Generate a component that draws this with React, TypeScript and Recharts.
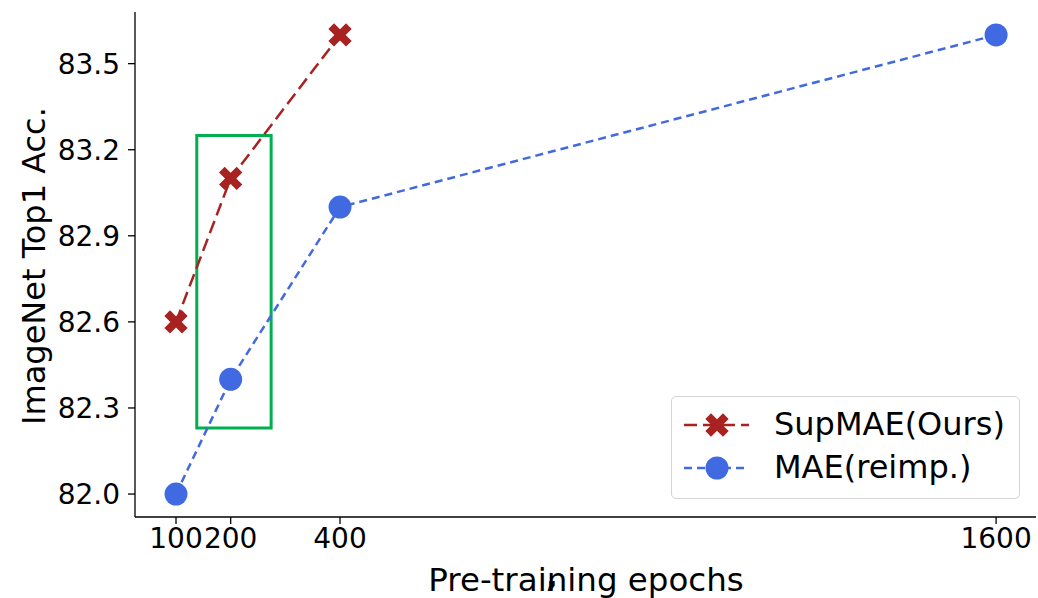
import React from 'react';
import { LineChart, Line, XAxis, YAxis, ReferenceArea } from 'recharts';

const epochs = [100, 200, 400, 1600];
const supMAE = [82.6, 83.1, 83.6];
const maeReimp = [82.0, 82.4, 83.0, 83.6];
const xTicks = [100, 200, 400, 1600];
const yTicks = [82.0, 82.3, 82.6, 82.9, 83.2, 83.5];
// highlighted region around the 200-epoch points
const boxX = [138, 274];
const boxY = [82.23, 83.25];

const RED = '#A82222';
const BLUE = '#4169E1';
const GREEN = '#00B050';
const FONT = '"DejaVu Sans", sans-serif';

const data = epochs.map((e, i) => ({ epoch: e, sup: supMAE[i], mae: maeReimp[i] }));

const xPath = (cx: number, cy: number, L: number, t: number) => {
    // plus shape rotated 45 degrees
    const pts: [number, number][] = [
        [-t, -L], [t, -L], [t, -t], [L, -t], [L, t], [t, t],
        [t, L], [-t, L], [-t, t], [-L, t], [-L, -t], [-t, -t],
    ];
    const c = Math.SQRT1_2;
    return pts
        .map(([x, y], i) => `${i ? 'L' : 'M'}${cx + (x - y) * c},${cy + (x + y) * c}`)
        .join(' ') + ' Z';
};

const XDot = (props: any) => {
    const { cx, cy, index } = props;
    if (cx == null || cy == null) return <g key={`x-${index}`} />;
    return <path key={`x-${index}`} d={xPath(cx, cy, 12.5, 4)} fill={RED} />;
};

const CircleDot = (props: any) => {
    const { cx, cy, index } = props;
    if (cx == null || cy == null) return <g key={`c-${index}`} />;
    return <circle key={`c-${index}`} cx={cx} cy={cy} r={11.5} fill={BLUE} />;
};

const LegendBox = () => (
    <div style={{
        position: 'absolute', left: 671, top: 396, width: 347, height: 101,
        border: '1.5px solid #d4d4d4', borderRadius: 5, background: 'rgba(255,255,255,0.85)',
        fontFamily: FONT, fontSize: 32, color: '#000',
    }}>
        <svg width={80} height={101} style={{ position: 'absolute', left: 0, top: 0 }}>
            <line x1={12} y1={28} x2={77} y2={28} stroke={RED} strokeWidth={2.5} strokeDasharray="13 6" />
            <path d={xPath(45, 28, 12.5, 4)} fill={RED} />
            <line x1={12} y1={71} x2={77} y2={71} stroke={BLUE} strokeWidth={2.5} strokeDasharray="8 5" />
            <circle cx={45} cy={71} r={11.5} fill={BLUE} />
        </svg>
        <div style={{ position: 'absolute', left: 102, top: 8, lineHeight: '38px' }}>SupMAE(Ours)</div>
        <div style={{ position: 'absolute', left: 102, top: 51, lineHeight: '38px' }}>MAE(reimp.)</div>
    </div>
);

export default function App() {
    return (
        <div style={{ position: 'absolute', left: 0, top: 0, width: 1038, height: 598, background: '#fff' }}>
            <LineChart width={1038} height={598} data={data} margin={{ top: 12, right: 2, left: 0, bottom: 0 }}>
                <XAxis
                    dataKey="epoch"
                    type="number"
                    domain={[25, 1673]}
                    ticks={xTicks}
                    height={81}
                    stroke="#000"
                    strokeWidth={1.3}
                    tickSize={7}
                    tick={{ fill: '#000', fontSize: 28, fontFamily: FONT }}
                    tickMargin={4}
                    label={() => (
                        <g>
                            <text x={586} y={591} textAnchor="middle" fontSize={32.5} fontFamily={FONT} fill="#000">Pre-training epochs</text>
                            <text x={552} y={587} textAnchor="middle" fontSize={31} fontWeight="bold" fontFamily={FONT} fill="#000">,</text>
                        </g>
                    )}
                />
                <YAxis
                    type="number"
                    domain={[81.92, 83.68]}
                    ticks={yTicks}
                    width={135}
                    stroke="#000"
                    strokeWidth={1.3}
                    tickSize={7}
                    tickMargin={8}
                    tickFormatter={(v: number) => v.toFixed(1)}
                    tick={{ fill: '#000', fontSize: 28, fontFamily: FONT }}
                    label={() => (
                        <text x={45} y={266} transform="rotate(-90 45 266)" textAnchor="middle" fontSize={32} fontFamily={FONT} fill="#000">
                            ImageNet Top1 Acc.
                        </text>
                    )}
                />
                <Line
                    dataKey="sup"
                    stroke={RED}
                    strokeWidth={2.5}
                    strokeDasharray="13 6"
                    dot={XDot}
                    activeDot={false}
                    isAnimationActive={false}
                />
                <Line
                    dataKey="mae"
                    stroke={BLUE}
                    strokeWidth={2.5}
                    strokeDasharray="8 5"
                    dot={CircleDot}
                    activeDot={false}
                    isAnimationActive={false}
                />
                <ReferenceArea
                    x1={boxX[0]}
                    x2={boxX[1]}
                    y1={boxY[0]}
                    y2={boxY[1]}
                    fill="none"
                    fillOpacity={0}
                    stroke={GREEN}
                    strokeWidth={3}
                    ifOverflow="visible"
                />
            </LineChart>
            <LegendBox />
        </div>
    );
}
